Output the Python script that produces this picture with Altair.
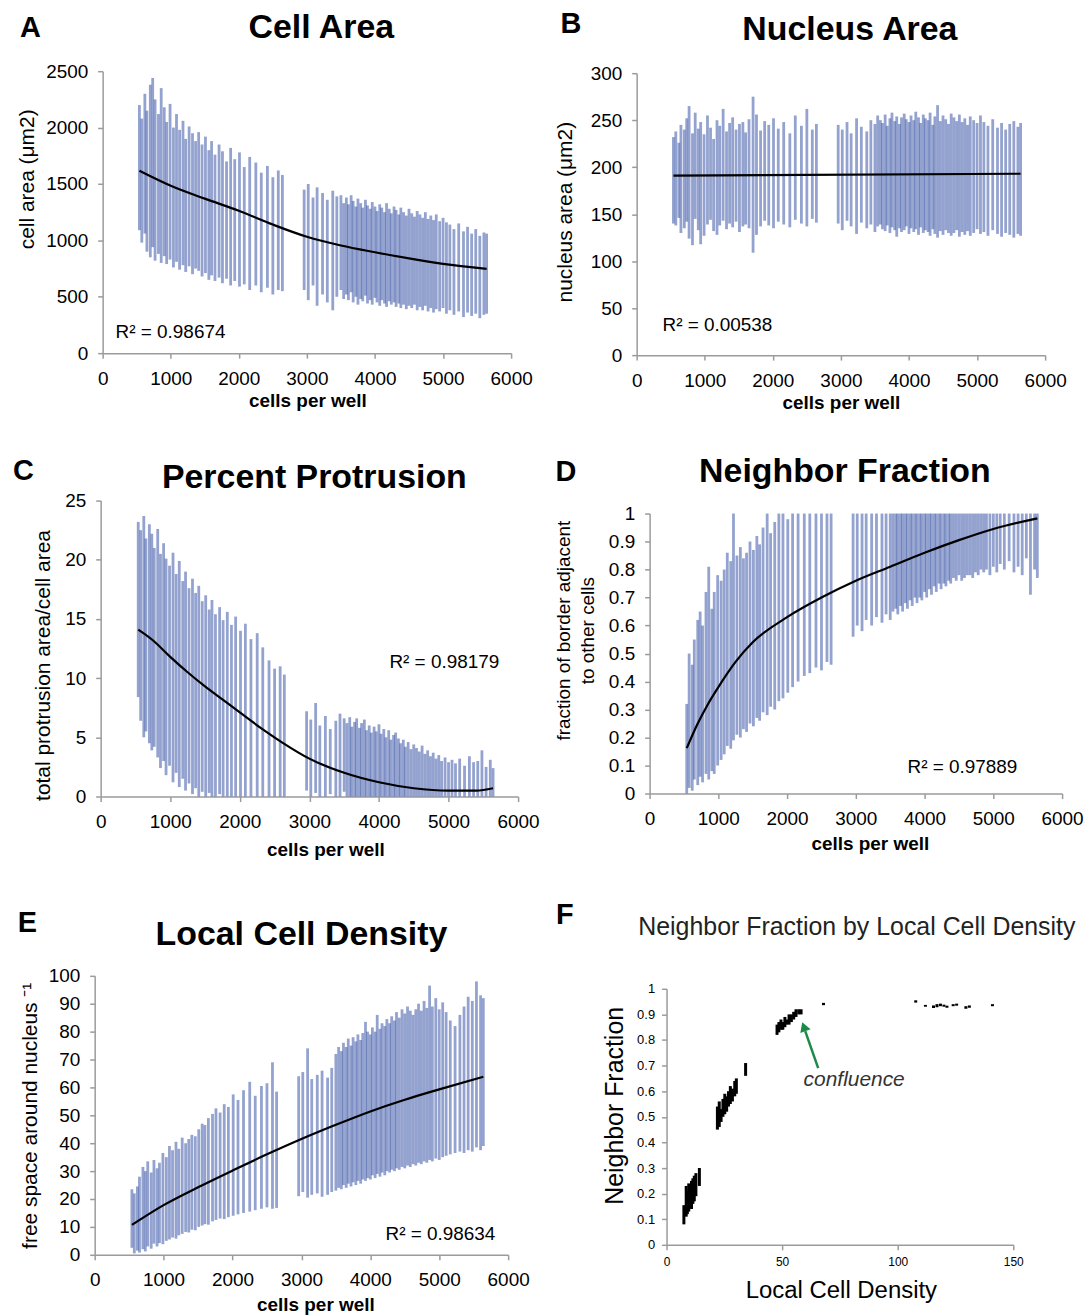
import altair as alt
import pandas as pd

FONT = "Liberation Sans"
BAR_COLOR = "#3a55a5"
AXIS_GRAY = "#9b9b9b"
GREEN = "#1e8a4a"

# ---------------- data ----------------
X_WELLS = [
    540, 575, 620, 650, 700, 735, 770, 820, 860, 905,
    940, 990, 1040, 1085, 1130, 1180, 1220, 1270, 1320, 1365,
    1410, 1460, 1510, 1560, 1600, 1650, 1710, 1760, 1820, 1880,
    1940, 2010, 2080, 2160, 2250, 2330, 2420, 2500, 2580, 2640,
    2960, 3020, 3090, 3150, 3230, 3300, 3380, 3440, 3500, 3540,
    3580, 3610, 3650, 3680, 3720, 3750, 3790, 3820, 3860, 3890,
    3930, 3960, 4000, 4030, 4070, 4100, 4140, 4170, 4210, 4240,
    4280, 4310, 4350, 4380, 4420, 4460, 4500, 4540, 4580, 4620,
    4660, 4700, 4740, 4780, 4820, 4860, 4900, 4950, 5000, 5050,
    5100, 5160, 5230, 5300, 5360, 5420, 5480, 5540, 5600, 5640]

# A  cell area
A_HI = [
    2200, 2080, 2300, 2150, 2380, 2440, 2250, 2120, 2350, 2180,
    2050, 2210, 2000, 2120, 1980, 2060, 1900, 2010, 1950, 1880,
    1960, 1850, 1920, 1800, 1880, 1760, 1850, 1790, 1700, 1820,
    1720, 1780, 1650, 1740, 1690, 1600, 1660, 1560, 1620, 1580,
    1450, 1500, 1380, 1470, 1420, 1360, 1440, 1390, 1400, 1330,
    1380, 1320, 1400, 1350, 1300, 1370, 1330, 1290, 1360, 1310,
    1280, 1340, 1300, 1260, 1320, 1290, 1250, 1330, 1280, 1240,
    1300, 1270, 1230, 1290, 1250, 1220, 1280, 1240, 1210, 1260,
    1230, 1200, 1250, 1190, 1220, 1180, 1230, 1170, 1200, 1160,
    1140, 1100, 1150, 1080, 1120, 1060, 1100, 1040, 1070, 1060]
A_LO = [
    1090, 980, 1060, 900, 850, 940, 820, 880, 800, 860,
    790, 830, 760, 810, 740, 780, 720, 770, 700, 750,
    730, 680, 710, 650, 690, 640, 670, 620, 660, 600,
    640, 590, 610, 560, 600, 540, 580, 520, 560, 550,
    560, 470, 600, 420, 520, 450, 380, 500, 560, 480,
    520, 470, 540, 450, 500, 430, 480, 460, 510, 440,
    470, 430, 490, 450, 420, 470, 440, 410, 460, 430,
    450, 410, 440, 400, 430, 390, 420, 400, 430, 380,
    410, 380, 420, 370, 400, 360, 390, 370, 400, 350,
    380, 340, 370, 320, 360, 330, 350, 310, 340, 350]
A_TREND_X = [540, 1000, 1500, 2000, 2500, 3000, 3500, 4000, 4500, 5000, 5640]
A_TREND_Y = [1617, 1484, 1370, 1263, 1140, 1032, 955, 895, 840, 792, 748]

# B  nucleus area
B_HI = [
    232, 238, 226, 245, 240, 252, 265, 236, 258, 241,
    248, 235, 255, 242, 230, 250, 244, 262, 238, 247,
    253, 240, 246, 248, 237, 251, 275, 256, 239, 249,
    245, 252, 241, 248, 236, 255, 244, 262, 240, 246,
    245, 240, 248, 236, 252, 243, 238, 250, 246, 255,
    250, 247, 256, 244, 252, 258, 249, 254, 246, 253,
    257, 251, 248, 255, 250, 259, 253, 247, 256, 252,
    250, 258, 245, 254, 266, 249, 255, 251, 246, 257,
    253, 249, 256, 248, 252, 245, 254, 250, 247, 255,
    248, 244, 251, 242, 247, 240, 246, 249, 243, 247]
B_LO = [
    140, 138, 146, 130, 135, 142, 124, 117, 145, 133,
    118, 127, 139, 144, 132, 128, 138, 143, 134, 140,
    136, 142, 131, 137, 139, 135, 109, 128, 137, 143,
    138, 135, 142, 139, 136, 144, 140, 137, 145, 141,
    140, 133, 143, 137, 129, 141, 135, 139, 131, 137,
    139, 134, 132, 138, 130, 136, 133, 126, 135, 131,
    133, 137, 129, 135, 131, 134, 128, 136, 130, 133,
    131, 127, 134, 129, 125, 132, 128, 133, 130, 127,
    130, 133, 126, 131, 128, 132, 127, 130, 134, 129,
    131, 127, 133, 129, 126, 130, 128, 125, 129, 127]
B_TREND_X = [540, 5640]
B_TREND_Y = [191, 193]

# C  percent protrusion
C_HI = [
    23.2, 22.5, 23.7, 21.8, 23.0, 22.2, 21.0, 22.6, 20.5, 21.4,
    20.1, 19.5, 20.6, 18.8, 19.9, 18.2, 19.0, 17.6, 18.4, 17.2,
    17.8, 16.5, 17.0, 15.8, 16.6, 15.4, 16.0, 14.9, 15.6, 14.5,
    15.2, 14.0, 14.6, 13.3, 13.8, 12.6, 11.5, 10.8, 11.0, 10.3,
    7.2, 6.5, 7.9, 6.0, 6.8, 5.7, 6.4, 7.0, 6.6, 6.2,
    6.7, 5.9, 6.3, 6.6, 5.8, 6.2, 6.5, 5.6, 6.0, 5.4,
    5.9, 5.5, 6.1, 5.3, 5.7, 5.0, 5.6, 4.8, 5.2, 5.4,
    4.9, 4.5, 4.8, 4.2, 4.6, 4.0, 4.4, 4.1, 3.8, 4.3,
    3.6, 3.9, 3.4, 3.7, 3.2, 3.5, 3.0, 3.3, 2.9, 3.1,
    2.8, 3.2, 2.6, 3.4, 2.9, 3.0, 3.9, 2.5, 3.1, 2.4]
C_LO = [
    8.4, 6.4, 5.0, 5.5, 4.5, 3.9, 4.2, 3.3, 2.4, 3.0,
    1.8, 2.6, 1.2, 2.0, 0.8, 1.5, 0.5, 1.1, 0.2, 0.7,
    0.0, 0.4, 0.0, 0.3, 0.0, 0.0, 0.2, 0.0, 0.0, 0.0,
    0.0, 0.0, 0.0, 0.0, 0.0, 0.0, 0.0, 0.0, 0.0, 0.0,
    0.5, 0.0, 0.3, 0.0, 0.0, 0.2, 0.0, 0.0, 0.4, 0.0,
    0.0, 0.0, 0.0, 0.0, 0.0, 0.0, 0.0, 0.0, 0.0, 0.0,
    0.0, 0.0, 0.0, 0.0, 0.0, 0.0, 0.0, 0.0, 0.0, 0.0,
    0.0, 0.0, 0.0, 0.0, 0.0, 0.0, 0.0, 0.0, 0.0, 0.0,
    0.0, 0.0, 0.0, 0.0, 0.0, 0.0, 0.0, 0.0, 0.0, 0.0,
    0.0, 0.0, 0.0, 0.0, 0.0, 0.0, 0.0, 0.0, 0.0, 0.0]
C_TREND_X = [540, 750, 1000, 1250, 1500, 1750, 2000, 2300, 2600, 3000,
             3500, 4000, 4500, 5000, 5400, 5640]
C_TREND_Y = [14.1, 13.2, 11.8, 10.5, 9.3, 8.2, 7.1, 5.8, 4.6, 3.2,
             2.0, 1.2, 0.7, 0.5, 0.5, 0.7]

# D  neighbor fraction
D_HI = [
    0.32, 0.50, 0.46, 0.55, 0.62, 0.65, 0.60, 0.72, 0.81, 0.66,
    0.72, 0.78, 0.76, 0.80, 0.86, 0.83, 1.00, 0.85, 0.88, 0.84,
    0.86, 0.90, 0.87, 0.92, 0.89, 0.95, 1.00, 0.93, 0.97, 1.00,
    1.00, 0.98, 1.00, 1.00, 1.00, 1.00, 1.00, 1.00, 1.00, 1.00,
    1.00, 1.00, 1.00, 1.00, 1.00, 1.00, 1.00, 1.00, 1.00, 1.00,
    1.00, 1.00, 1.00, 1.00, 1.00, 1.00, 1.00, 1.00, 1.00, 1.00,
    1.00, 1.00, 1.00, 1.00, 1.00, 1.00, 1.00, 1.00, 1.00, 1.00,
    1.00, 1.00, 1.00, 1.00, 1.00, 1.00, 1.00, 1.00, 1.00, 1.00,
    1.00, 1.00, 1.00, 1.00, 1.00, 1.00, 1.00, 1.00, 1.00, 1.00,
    1.00, 1.00, 1.00, 1.00, 1.00, 1.00, 1.00, 1.00, 1.00, 1.00]
D_LO = [
    0.00, 0.02, 0.01, 0.05, 0.03, 0.06, 0.04, 0.07, 0.05, 0.08,
    0.07, 0.10, 0.12, 0.14, 0.17, 0.16, 0.19, 0.21, 0.20, 0.23,
    0.22, 0.25, 0.24, 0.27, 0.26, 0.29, 0.28, 0.31, 0.30, 0.33,
    0.34, 0.36, 0.38, 0.40, 0.42, 0.43, 0.45, 0.44, 0.47, 0.46,
    0.56, 0.60, 0.58, 0.62, 0.60, 0.63, 0.61, 0.64, 0.62, 0.65,
    0.66, 0.64, 0.67, 0.65, 0.68, 0.66, 0.69, 0.67, 0.70, 0.68,
    0.70, 0.69, 0.72, 0.70, 0.73, 0.71, 0.74, 0.72, 0.75, 0.73,
    0.75, 0.74, 0.76, 0.75, 0.77, 0.76, 0.78, 0.76, 0.77, 0.78,
    0.78, 0.77, 0.79, 0.78, 0.80, 0.79, 0.80, 0.78, 0.81, 0.79,
    0.82, 0.80, 0.83, 0.79, 0.81, 0.78, 0.84, 0.71, 0.80, 0.77]
D_TREND_X = [540, 700, 850, 1000, 1250, 1500, 2000, 2500, 3000, 3500,
             4000, 4500, 5000, 5640]
D_TREND_Y = [0.162, 0.25, 0.32, 0.38, 0.47, 0.54, 0.63, 0.70, 0.76, 0.81,
             0.86, 0.905, 0.945, 0.983]

# E  local cell density
E_HI = [
    23.5, 22.0, 24.5, 28.0, 31.5, 30.0, 33.5, 29.5, 34.0, 31.0,
    33.0, 36.5, 35.0, 39.0, 37.5, 40.5, 38.0, 42.0, 40.0, 41.5,
    43.0, 42.5, 45.0, 47.0, 46.5, 49.0, 50.5, 52.5, 51.0, 54.0,
    53.0, 57.5, 55.5, 59.0, 62.0, 57.0, 60.5, 61.5, 69.0, 58.5,
    64.0, 65.5, 74.0, 63.0, 64.5, 66.0, 63.5, 67.0, 72.0, 74.5,
    73.0, 76.0, 74.5, 77.5, 75.0, 78.0, 76.5, 79.0, 77.0, 79.5,
    83.5, 80.0, 79.0, 81.5, 80.0, 86.0, 81.0, 83.0, 82.0, 84.5,
    83.0, 85.5, 84.0, 87.0, 85.0, 88.0, 86.5, 89.0, 87.5, 86.0,
    88.0, 90.0, 87.5, 91.0, 88.5, 96.5, 89.0, 92.0, 88.0, 90.5,
    87.0, 84.0, 82.0, 86.0, 89.0, 92.5, 91.0, 98.0, 93.0, 92.0]
E_LO = [
    2.5, 0.5, 1.5, 0.8, 2.0, 1.2, 3.0, 2.2, 4.0, 3.0,
    4.2, 3.8, 5.0, 5.5, 6.2, 5.8, 7.0, 7.5, 8.2, 8.0,
    9.0, 8.8, 10.0, 10.5, 11.0, 10.8, 12.0, 12.5, 13.0, 12.8,
    13.5, 14.0, 14.5, 15.0, 15.5, 16.0, 16.5, 17.0, 16.5, 16.8,
    21.0, 22.5, 20.5, 21.5, 22.0, 20.8, 21.5, 22.5, 23.0, 24.0,
    23.5, 25.0, 24.0, 25.5, 24.5, 26.0, 25.0, 26.5, 25.5, 27.0,
    26.5, 27.5, 27.0, 28.5, 27.5, 29.0, 28.0, 29.5, 28.5, 30.0,
    29.5, 30.5, 30.0, 31.0, 30.5, 31.5, 31.0, 32.0, 31.5, 32.5,
    32.0, 33.0, 32.5, 33.5, 33.0, 34.0, 33.5, 34.5, 34.0, 35.0,
    35.5, 36.0, 36.5, 37.0, 36.5, 37.5, 37.0, 38.5, 37.5, 39.0]
E_TREND_X = [540, 1000, 1500, 2000, 2500, 3000, 3500, 4000, 4500, 5000, 5640]
E_TREND_Y = [10.7, 17.8, 24.2, 30.2, 36.0, 41.5, 46.6, 51.4, 55.6, 59.3, 63.8]

# F  neighbor fraction by local cell density
F_X = [7.5, 8.5, 9.0, 9.6, 10.2, 10.8, 11.4, 12.0, 12.7, 14.2,
       22.0, 22.8, 23.6, 24.4, 25.2, 26.0, 26.8, 27.6, 28.5, 29.5, 30.2, 34.2,
       47.8, 48.6, 49.5, 50.3, 51.2, 52.0, 53.0, 54.0, 55.0, 56.0, 57.2, 58.2, 67.9,
       107.8, 112.0, 115.5, 117.0, 118.5, 120.0, 121.3, 124.0, 125.5, 129.5, 131.0, 141.0]
F_LO = [0.08, 0.11, 0.12, 0.13, 0.15, 0.14, 0.16, 0.17, 0.19, 0.23,
        0.45, 0.46, 0.48, 0.50, 0.51, 0.52, 0.54, 0.55, 0.56, 0.58, 0.59, 0.66,
        0.82, 0.83, 0.84, 0.84, 0.85, 0.86, 0.86, 0.87, 0.88, 0.89, 0.90, 0.90, 0.936,
        0.946, 0.930, 0.925, 0.928, 0.932, 0.930, 0.926, 0.932, 0.934, 0.922, 0.926, 0.932]
F_HI = [0.155, 0.23, 0.21, 0.24, 0.22, 0.25, 0.26, 0.27, 0.28, 0.30,
        0.54, 0.56, 0.53, 0.57, 0.59, 0.58, 0.60, 0.62, 0.61, 0.64, 0.65, 0.71,
        0.86, 0.87, 0.88, 0.87, 0.89, 0.88, 0.90, 0.90, 0.91, 0.92, 0.92, 0.92, 0.945,
        0.955, 0.937, 0.935, 0.940, 0.942, 0.938, 0.934, 0.940, 0.942, 0.932, 0.935, 0.940]
ARROW_X = [65.6, 60.0]
ARROW_Y = [0.69, 0.835]
ARROW_HEAD = (59.4, 0.852)

# tick values
WELL_TICKS = [0, 1000, 2000, 3000, 4000, 5000, 6000]
A_TICKS = [0, 500, 1000, 1500, 2000, 2500]
B_TICKS = [0, 50, 100, 150, 200, 250, 300]
C_TICKS = [0, 5, 10, 15, 20, 25]
FRAC_TICKS = [0, 0.1, 0.2, 0.3, 0.4, 0.5, 0.6, 0.7, 0.8, 0.9, 1]
E_TICKS = [0, 10, 20, 30, 40, 50, 60, 70, 80, 90, 100]
F_XTICKS = [0, 50, 100, 150]


def x_axis(values, title, tx, ty, fmt="d", label_size=19, title_size=19, weight="bold", pad=11):
    return alt.Axis(values=values, format=fmt, title=title, labelFontSize=label_size,
                    titleFontSize=title_size, titleFontWeight=weight, titleBaseline="middle",
                    titleX=tx, titleY=ty, labelPadding=pad)


def y_axis(values, title, tx, ty, fmt="d", label_size=19, title_size=21, pad=10,
           line_height=None, offset=0):
    kw = dict(values=values, format=fmt, title=title, labelFontSize=label_size,
              titleFontSize=title_size, titleFontWeight="normal", titleBaseline="middle",
              titleX=tx, titleY=ty, labelPadding=pad, offset=offset)
    if line_height is not None:
        kw["titleLineHeight"] = line_height
    return alt.Axis(**kw)


def label_layer(text, px, py, size, weight="bold", color="black"):
    return alt.Chart(pd.DataFrame({"t": [text]})).mark_text(
        fontSize=size, fontWeight=weight, font=FONT, color=color,
        align="center", baseline="middle").encode(
        x=alt.value(px), y=alt.value(py), text="t:N")


def panel(lo, hi, tx, ty, ydom, xax, yax, width, height, sx, sy, title, tpx, tpy,
          letter, lx, ly, r2, r2x, r2y):
    # sx / sy: pixel inset of the plotting frame inside the panel group
    xs = alt.Scale(domain=[0, 6000], nice=False, zero=False, range=[sx, sx + width])
    ys = alt.Scale(domain=ydom, nice=False, range=[sy + height, sy])
    bars_df = pd.DataFrame({"x": X_WELLS, "lo": lo, "hi": hi})
    trend_df = pd.DataFrame({"x": tx, "lo": ty})
    bars = alt.Chart(bars_df).mark_rule(color=BAR_COLOR, opacity=0.55, strokeWidth=2.8).encode(
        x=alt.X("x:Q", scale=xs, axis=xax),
        y=alt.Y("lo:Q", scale=ys, axis=yax),
        y2="hi:Q")
    trend = alt.Chart(trend_df).mark_line(color="black", strokeWidth=2.2,
                                          interpolate="monotone").encode(
        x=alt.X("x:Q", scale=xs, axis=xax),
        y=alt.Y("lo:Q", scale=ys, axis=yax))
    r2_df = pd.DataFrame({"x": [r2x], "lo": [r2y], "t": [r2]})
    r2_text = alt.Chart(r2_df).mark_text(align="left", baseline="middle", fontSize=19,
                                         font=FONT, color="black").encode(
        x=alt.X("x:Q", scale=xs, axis=xax),
        y=alt.Y("lo:Q", scale=ys, axis=yax),
        text="t:N")
    ttl = label_layer(title, tpx, tpy, 34)
    let = label_layer(letter, lx, ly, 29)
    return alt.layer(bars, trend, r2_text, ttl, let).properties(
        width=sx + width, height=sy + height)


pA = panel(A_LO, A_HI, A_TREND_X, A_TREND_Y, [0, 2500],
           x_axis(WELL_TICKS, "cells per well", 213.5, 48),
           y_axis(A_TICKS, "cell area (μm2)", -75.5, 108, offset=-8),
           410, 283, 8, 0, "Cell Area", 227.5, -43, "A", -64.5, -43,
           "R² = 0.98674", 190, 185)
pB = panel(B_LO, B_HI, B_TREND_X, B_TREND_Y, [0, 300],
           x_axis(WELL_TICKS, "cells per well", 205, 48),
           y_axis(B_TICKS, "nucleus area (μm2)", -71, 141),
           410, 283, 0, 2, "Nucleus Area", 214, -41, "B", -66, -47,
           "R² = 0.00538", 380, 31.6)
pC = panel(C_LO, C_HI, C_TREND_X, C_TREND_Y, [0, 25],
           x_axis(WELL_TICKS, "cells per well", 231.5, 53),
           y_axis(C_TICKS, "total protrusion area/cell area", -57.5, 165, offset=-6),
           419, 297, 6, 0, "Percent Protrusion", 220.5, -23, "C", -71.5, -30,
           "R² = 0.98179", 4150, 11.4)
pD = panel(D_LO, D_HI, D_TREND_X, D_TREND_Y, [0, 1],
           x_axis(WELL_TICKS, "cells per well", 221, 50),
           y_axis(FRAC_TICKS, ["fraction of border adjacent", "to other cells"], -86, 130,
                  fmt=".1~f", title_size=19, line_height=24),
           414, 281, 0, 13, "Neighbor Fraction", 196, -29, "D", -84, -29,
           "R² = 0.97889", 3752, 0.095)
pE = panel(E_LO, E_HI, E_TREND_X, E_TREND_Y, [0, 100],
           x_axis(WELL_TICKS, "cells per well", 221.5, 50),
           y_axis(E_TICKS, "free space around nucleus ⁻¹", -64.5, 140),
           415, 280, 0, 0, "Local Cell Density", 207.5, -41, "E", -67.5, -53,
           "R² = 0.98634", 4220, 7.5)

# ---- panel F ----
F_SY = 13
fxs = alt.Scale(domain=[0, 150], nice=False, range=[0, 348])
fys = alt.Scale(domain=[0, 1], nice=False, range=[F_SY + 257, F_SY])
fxa = x_axis(F_XTICKS, "Local Cell Density", 175, 46, label_size=12, title_size=24,
             weight="normal", pad=7)
fya = y_axis(FRAC_TICKS, "Neighbor Fraction", -52, 130, fmt=".1~f", label_size=13,
             title_size=25, pad=7)
f_df = pd.DataFrame({"x": F_X, "lo": F_LO, "hi": F_HI})
f_bars = alt.Chart(f_df).mark_rule(color="black", strokeWidth=3).encode(
    x=alt.X("x:Q", scale=fxs, axis=fxa),
    y=alt.Y("lo:Q", scale=fys, axis=fya),
    y2="hi:Q")
arrow_df = pd.DataFrame({"x": ARROW_X, "lo": ARROW_Y})
f_arrow = alt.Chart(arrow_df).mark_line(color=GREEN, strokeWidth=2.5).encode(
    x=alt.X("x:Q", scale=fxs, axis=fxa), y=alt.Y("lo:Q", scale=fys, axis=fya))
head_df = pd.DataFrame({"x": [ARROW_HEAD[0]], "lo": [ARROW_HEAD[1]]})
f_head = alt.Chart(head_df).mark_point(shape="triangle-up", filled=True, size=120,
                                       angle=340, color=GREEN, opacity=1).encode(
    x=alt.X("x:Q", scale=fxs, axis=fxa), y=alt.Y("lo:Q", scale=fys, axis=fya))
conf_df = pd.DataFrame({"x": [59.3], "lo": [0.642], "t": ["confluence"]})
f_conf = alt.Chart(conf_df).mark_text(align="left", baseline="middle", fontSize=21,
                                      fontStyle="italic", font=FONT, color="#333333").encode(
    x=alt.X("x:Q", scale=fxs, axis=fxa), y=alt.Y("lo:Q", scale=fys, axis=fya), text="t:N")
f_ttl = label_layer("Neighbor Fraction by Local Cell Density", 191, -48.5, 25,
                    weight="normal", color="#222222")
f_let = label_layer("F", -102, -61, 29)
pF = alt.layer(f_bars, f_arrow, f_head, f_conf, f_ttl, f_let).properties(
    width=348, height=F_SY + 257)

row1 = alt.hconcat(pA, pB, spacing=22)
row2 = alt.hconcat(pC, pD, spacing=14)
row3 = alt.hconcat(pE, pF, spacing=26)

chart = alt.vconcat(row1, row2, row3, spacing=42).properties(
    padding={"left": 5, "top": 0, "right": 0, "bottom": 0}
).configure_view(
    stroke=None
).configure_axis(
    domainColor=AXIS_GRAY, tickColor=AXIS_GRAY, domainWidth=1.5, tickWidth=1.5,
    tickSize=5, labelFont=FONT, titleFont=FONT, labelColor="black", titleColor="black",
    grid=False, labelFlush=False, labelOverlap=False
)

chart.save("out.html", embed_options={"renderer": "svg", "actions": False})
